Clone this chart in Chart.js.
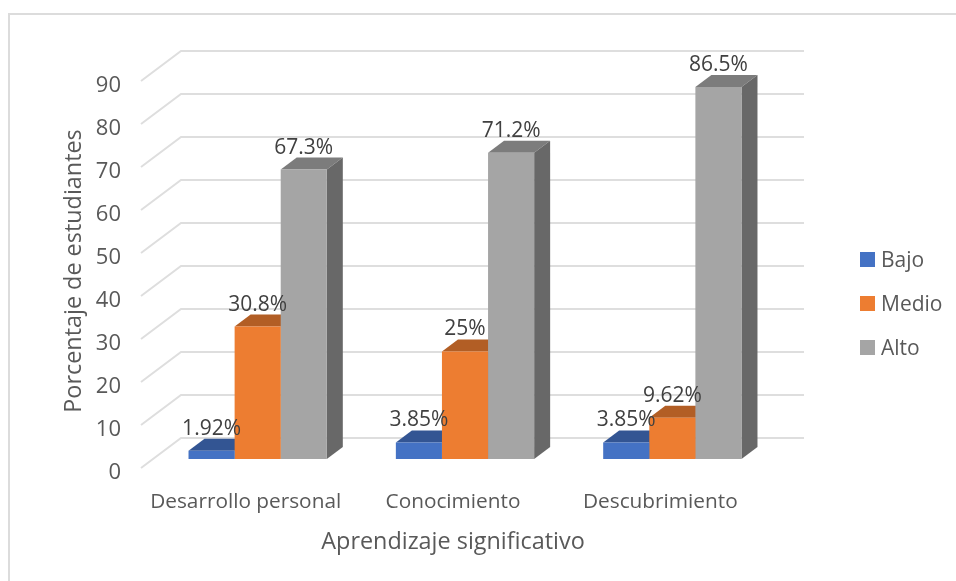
<!DOCTYPE html>
<html>
<head>
<meta charset="utf-8">
<title>Aprendizaje significativo</title>
<script src="https://cdn.jsdelivr.net/npm/chart.js@4"></script>
<style>
    body { margin: 0; background: #fff; }
    #wrap { position: relative; width: 956px; height: 581px; overflow: hidden; font-family: "Open Sans", sans-serif; }
    #frame { position: absolute; left: 8px; top: 13px; right: -4px; bottom: -4px; border: 2px solid #dcdcdc; }
    canvas { position: absolute; left: 0; top: 0; }
    #legend-div ul { position: absolute; left: 860px; top: 237px; margin: 0; padding: 0; list-style: none; }
    #legend-div li { height: 44px; line-height: 44px; font-size: 21px; color: #595959; white-space: nowrap; }
    #legend-div span { display: inline-block; width: 15px; height: 15px; margin-right: 6px; }
</style>
</head>
<body>
<div id="wrap">
    <div id="frame"></div>
    <canvas id="barChartCanvas" width="956" height="581"></canvas>
    <div id="legend-div"></div>
</div>
<script>
const categories = ['Desarrollo personal', 'Conocimiento', 'Descubrimiento'];
const bajo = [1.92, 3.85, 3.85];
const medio = [30.8, 25, 9.62];
const alto = [67.3, 71.2, 86.5];

const xTitle = 'Aprendizaje significativo';
const yTitle = 'Porcentaje de estudiantes';

// front, top and side colours of each series
const frontColors = ['#4472c4', '#ed7d31', '#a5a5a5'];
const topColors = ['#335593', '#b25e25', '#7c7c7c'];
const sideColors = ['#2b4a80', '#9c5220', '#686868'];

const FONT = '"Open Sans", sans-serif';

let barChartData = {
    labels: categories,
    datasets: [
        { label: 'Bajo', data: bajo, backgroundColor: frontColors[0] },
        { label: 'Medio', data: medio, backgroundColor: frontColors[1] },
        { label: 'Alto', data: alto, backgroundColor: frontColors[2] }
    ]
};

function quad(ctx, color, pts) {
    ctx.fillStyle = color;
    ctx.beginPath();
    ctx.moveTo(pts[0][0], pts[0][1]);
    for (let i = 1; i < pts.length; i++) ctx.lineTo(pts[i][0], pts[i][1]);
    ctx.closePath();
    ctx.fill();
}

// floor / wall grid and the depth faces go under the library's bars
let depthPlugin = {
    id: 'depth',
    beforeDatasetsDraw(chart) {
        let ctx = chart.ctx;
        let area = chart.chartArea;
        let y = chart.scales.y;

        ctx.save();
        ctx.strokeStyle = '#dedede';
        ctx.lineWidth = 2;
        y.ticks.forEach(function (tick) {
            let p = y.getPixelForValue(tick.value);
            ctx.beginPath();
            ctx.moveTo(area.left - 13, p + 9);
            ctx.lineTo(area.left + 27, p - 21);
            ctx.lineTo(area.right + 28, p - 21);
            ctx.stroke();
        });

        const dx = 16, dy = 12;
        chart.data.datasets.forEach(function (ds, i) {
            chart.getDatasetMeta(i).data.forEach(function (bar) {
                let l = bar.x - bar.width / 2;
                let r = bar.x + bar.width / 2;
                quad(ctx, topColors[i], [[l, bar.y], [r, bar.y], [r + dx, bar.y - dy], [l + dx, bar.y - dy]]);
                quad(ctx, sideColors[i], [[r, bar.y], [r + dx, bar.y - dy], [r + dx, bar.base - dy], [r, bar.base]]);
            });
        });
        ctx.restore();
    },
    afterDatasetsDraw(chart) {
        let ctx = chart.ctx;
        ctx.save();
        ctx.fillStyle = '#404040';
        ctx.font = '21px ' + FONT;
        ctx.textAlign = 'center';
        ctx.textBaseline = 'middle';
        chart.data.datasets.forEach(function (ds, i) {
            chart.getDatasetMeta(i).data.forEach(function (bar, j) {
                ctx.fillText(ds.data[j] + '%', bar.x, bar.y - 22);
            });
        });

        // axis titles
        ctx.fillStyle = '#595959';
        ctx.font = '23.4px ' + FONT;
        ctx.fillText(xTitle, 453, 542);
        ctx.translate(74, 271);
        ctx.rotate(-Math.PI / 2);
        ctx.fillText(yTitle, 0, 0);
        ctx.restore();
    }
};

let barChartDraw = function () {
    let ctx = document.getElementById('barChartCanvas').getContext('2d');

    window.barChart = new Chart(ctx, {
        type: 'bar',
        data: barChartData,
        plugins: [depthPlugin],
        options: {
            responsive: false,
            animation: false,
            layout: { padding: { left: 0, top: 72, right: 180, bottom: 0 } },
            categoryPercentage: 0.667,
            barPercentage: 1,
            plugins: {
                legend: { display: false },
                tooltip: { enabled: false }
            },
            scales: {
                x: {
                    grid: { display: false },
                    border: { display: false },
                    ticks: {
                        color: '#595959',
                        font: { family: FONT, size: 20.8 },
                        padding: 23,
                        labelOffset: -12,
                        maxRotation: 0,
                        autoSkip: false
                    },
                    afterFit(scale) { scale.height = 122; }
                },
                y: {
                    min: 0,
                    max: 90,
                    grid: { display: false },
                    border: { display: false },
                    ticks: {
                        stepSize: 10,
                        color: '#595959',
                        font: { family: FONT, size: 22 },
                        padding: 25,
                        labelOffset: 14
                    },
                    afterFit(scale) { scale.width = 154; }
                }
            }
        }
    });
};

let customLegend = function (chart) {
    let ul = document.createElement('ul');
    chart.data.datasets.forEach(function (ds) {
        ul.innerHTML += `<li><span style="background-color: ${ds.backgroundColor}"></span>${ds.label}</li>`;
    });
    return ul.outerHTML;
};

barChartDraw();
document.getElementById('legend-div').innerHTML = customLegend(window.barChart);
</script>
</body>
</html>
